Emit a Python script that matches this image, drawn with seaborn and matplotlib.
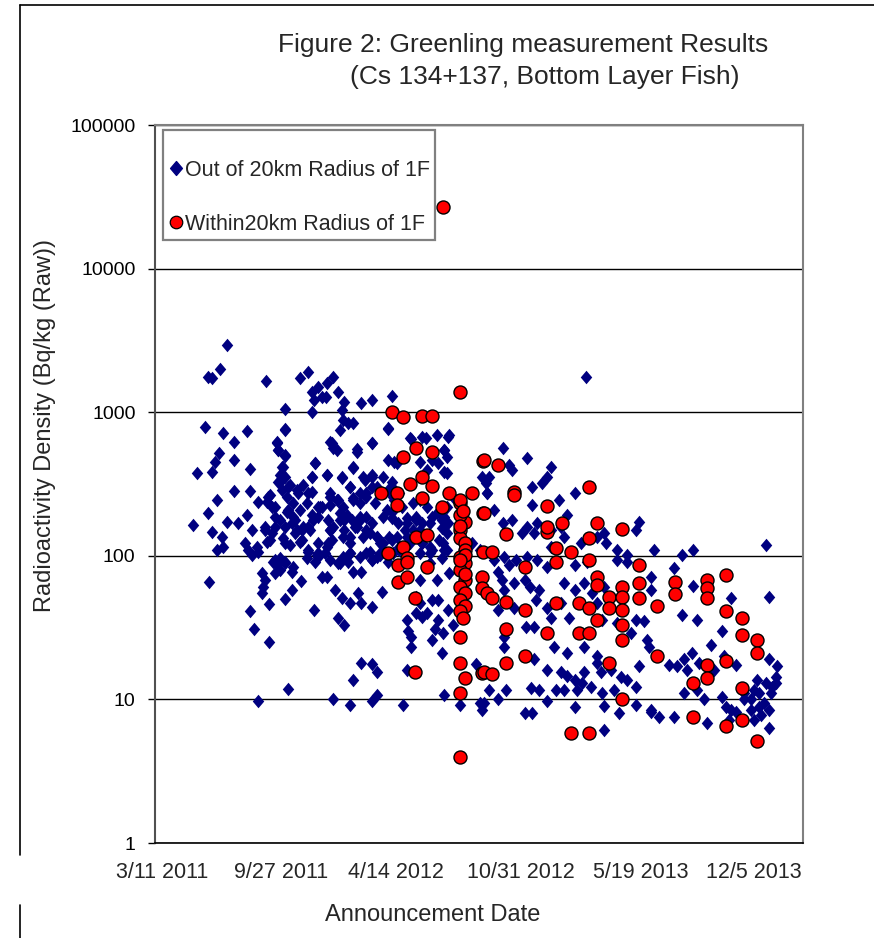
import pandas as pd
import matplotlib
matplotlib.use('Agg')
import matplotlib.pyplot as plt
import matplotlib.dates as mdates
from matplotlib.lines import Line2D
from matplotlib.patches import Rectangle
from matplotlib.path import Path
from matplotlib.ticker import NullLocator
import seaborn as sns

start = pd.Timestamp('2011-03-11')
axis_days = 1180

# (days after 3/11/2011, Bq/kg)
out_20km = [
    (131, 2940), (96, 1760), (104, 1730), (118, 2000), (202, 1650), (264, 1730), (278, 1900),
    (285, 1390), (296, 1500), (304, 1280), (289, 1220), (236, 1050), (285, 1000), (91, 790),
    (124, 716), (144, 620), (167, 740), (236, 764), (222, 610), (224, 545), (236, 495), (116, 520),
    (109, 450), (104, 383), (76, 377), (144, 465), (173, 402), (231, 415), (236, 354), (227, 327),
    (291, 443), (285, 354), (144, 283), (173, 283), (113, 245), (96, 199), (69, 164), (104, 147),
    (131, 172), (151, 169), (167, 192), (176, 151), (187, 237), (205, 256), (213, 219), (231, 287),
    (242, 301), (260, 274), (278, 274), (296, 219), (218, 186), (240, 202), (255, 178), (267, 151),
    (278, 159), (285, 192), (122, 135), (124, 115), (113, 110), (164, 123), (169, 110), (185, 115),
    (200, 151), (209, 129), (218, 159), (236, 123), (255, 144), (267, 129), (278, 110), (296, 105),
    (176, 101), (187, 106), (215, 91), (222, 86), (227, 97), (236, 91), (227, 80), (218, 76),
    (291, 91), (296, 98), (195, 76), (200, 68), (196, 61), (195, 55), (98, 66), (249, 77),
    (265, 67), (249, 58), (236, 50), (207, 46), (173, 41), (180, 31), (207, 25), (289, 42),
    (242, 11.8), (187, 9.8), (305, 71),
    (324, 1760), (313, 1600), (311, 1280), (333, 1390), (345, 1180), (340, 1040), (342, 880),
    (360, 840), (376, 1160), (396, 1220), (431, 1300), (424, 764), (318, 620), (324, 563),
    (367, 554), (396, 610), (467, 650), (493, 661), (533, 672), (527, 545), (531, 488), (527, 383),
    (436, 450), (482, 450), (313, 365), (340, 354), (360, 415), (355, 301), (382, 337), (396, 354),
    (318, 274), (333, 245), (360, 253), (373, 233), (385, 274), (405, 301), (431, 301), (445, 274),
    (436, 245), (596, 354), (604, 274), (305, 219), (318, 226), (336, 199), (345, 178), (358, 178),
    (373, 186), (385, 151), (396, 169), (415, 186), (431, 202), (458, 169), (476, 186), (482, 151),
    (500, 169), (513, 199), (527, 186), (533, 169), (318, 151), (315, 123), (342, 135), (355, 123),
    (367, 159), (404, 135), (409, 123), (427, 135), (440, 135), (455, 151), (464, 123), (485, 144),
    (487, 123), (500, 115), (524, 123), (531, 110), (578, 123), (591, 110), (309, 105), (355, 105),
    (385, 105), (409, 105), (433, 105), (445, 110), (500, 105), (527, 110),
    (313, 71), (327, 58), (336, 89), (351, 91), (360, 77), (376, 77), (340, 51), (355, 47),
    (369, 55), (376, 47), (396, 44), (413, 56), (395, 93), (405, 98), (424, 91), (333, 37),
    (345, 33), (458, 36), (460, 30), (467, 27), (467, 23), (476, 40), (487, 37.5), (495, 40),
    (505, 26), (509, 31), (515, 36), (524, 29), (522, 21), (515, 49), (533, 42), (542, 33),
    (476, 52), (482, 47), (505, 49), (482, 68), (513, 68), (536, 76), (376, 18), (396, 17.5),
    (404, 15.5), (360, 13.6), (458, 16), (585, 17.5), (527, 10.7), (404, 10.7), (324, 10),
    (355, 9.2), (395, 9.7), (451, 9.2), (555, 9.2), (591, 9.4), (595, 8.4),
    (633, 563), (678, 480), (645, 429), (651, 396), (722, 415), (713, 354), (705, 321), (764, 274),
    (736, 245), (687, 301), (605, 274), (618, 208), (687, 225), (651, 178), (633, 169), (678, 159),
    (696, 169), (669, 144), (691, 144), (722, 151), (740, 159), (751, 192), (745, 135), (722, 115),
    (776, 123), (804, 135), (818, 144), (822, 123), (842, 110), (860, 101), (876, 151), (882, 172),
    (609, 354), (602, 321), (785, 1750),
    (618, 93), (636, 98), (645, 86), (624, 77), (631, 68), (658, 93), (678, 98), (696, 93),
    (713, 83), (636, 58), (654, 65), (673, 68), (682, 61), (700, 58), (624, 42), (654, 43),
    (694, 49), (714, 43), (722, 37), (740, 47), (754, 37), (745, 65), (764, 58), (782, 65),
    (796, 55), (787, 91), (764, 86), (842, 93), (860, 91), (904, 71), (904, 58), (876, 36),
    (891, 35), (867, 29), (842, 34), (814, 36), (805, 47), (818, 61), (676, 32), (691, 32),
    (636, 27), (636, 23), (727, 23), (751, 21), (782, 23), (805, 20), (804, 18), (813, 15.5),
    (831, 16), (714, 16), (691, 19), (740, 15.5), (751, 14.5), (764, 13.7), (782, 15.5), (778, 13),
    (769, 11.6), (745, 11.6), (731, 11.6), (714, 9.7), (685, 12), (700, 11.6), (687, 8), (673, 8),
    (640, 11.6), (609, 11.6), (624, 10), (600, 9.5), (818, 9), (836, 11.6), (849, 14.3), (860, 13.7),
    (876, 12.2), (882, 17), (896, 26), (904, 8.2), (876, 9.2), (845, 8), (814, 11), (794, 12.2),
    (818, 6.1), (764, 8.9),
    (909, 110), (960, 101), (980, 110), (1113, 119), (945, 82), (980, 62), (960, 39), (987, 36),
    (1118, 52), (1049, 51), (1033, 30), (1013, 24), (900, 23), (936, 17.3), (951, 17), (964, 19),
    (969, 16), (978, 21), (991, 18), (1009, 17), (1018, 16), (1058, 17.3), (1036, 20), (964, 11),
    (987, 11.6), (1000, 10), (1033, 10.4), (1040, 8.8), (1049, 8.4), (1073, 10), (1085, 8.4),
    (1100, 11), (1096, 13.7), (1113, 13), (1122, 11), (1131, 14.4), (1133, 17), (1118, 19),
    (904, 8.4), (918, 7.5), (945, 7.5), (1005, 6.9), (1045, 7.2), (1058, 8.2), (1091, 7.2),
    (1104, 7.8), (1118, 6.3), (1118, 8.4), (1073, 11), (1085, 10), (1091, 11.6), (1100, 8.8),
    (1109, 9.5), (1124, 12.2), (1131, 13),
    # dense middle block, autumn 2011 to autumn 2012
    (236, 752), (222, 620), (224, 545), (236, 504), (233, 415), (227, 365), (224, 327), (245, 311),
    (258, 287), (269, 311), (209, 265), (204, 237), (218, 219), (240, 257), (251, 233), (242, 208),
    (251, 186), (264, 208), (276, 233), (285, 278), (200, 159), (213, 144), (204, 125), (227, 178),
    (236, 159), (249, 169), (258, 151), (269, 159), (282, 151), (287, 178), (233, 133), (245, 119),
    (264, 125), (278, 106), (295, 101), (296, 123), (318, 151), (322, 129), (313, 115), (218, 93),
    (236, 89), (251, 84), (276, 97), (291, 443), (285, 354), (313, 365), (331, 545), (322, 610),
    (336, 752), (351, 841), (367, 528), (340, 348), (355, 301), (360, 409), (378, 354), (395, 365),
    (396, 610), (318, 257), (331, 245), (342, 219), (349, 192), (360, 245), (373, 274), (385, 257),
    (395, 301), (400, 233), (300, 219), (296, 186), (315, 178), (324, 159), (336, 178), (345, 151),
    (355, 135), (364, 159), (373, 178), (385, 186), (391, 144), (378, 135), (318, 93), (333, 89),
    (342, 98), (355, 105), (373, 98), (396, 93), (409, 101), (391, 106), (424, 776), (424, 465),
    (440, 443), (415, 354), (431, 327), (424, 287), (433, 257), (422, 208), (431, 183), (442, 169),
    (458, 183), (449, 219), (469, 233), (482, 245), (495, 219), (505, 186), (476, 178), (487, 169),
    (404, 135), (415, 123), (413, 106), (431, 129), (445, 115), (458, 135), (469, 151), (487, 123),
    (505, 110), (518, 129), (531, 144), (522, 178), (531, 219), (542, 257), (464, 661), (487, 672),
    (513, 694), (536, 694), (527, 545), (515, 443), (531, 377), (495, 396), (505, 465), (531, 169),
    (522, 156), (482, 105), (500, 89), (522, 97),
]

in_20km = [
    (524, 26800), (555, 1390), (431, 1000), (451, 930), (487, 940), (505, 940), (476, 563),
    (505, 528), (451, 488), (598, 457), (487, 354), (465, 316), (505, 306), (411, 274), (440, 274),
    (440, 225), (487, 253), (536, 274), (522, 219), (578, 274), (555, 233), (598, 199), (564, 172),
    (555, 192), (555, 151), (555, 133), (564, 123), (564, 110), (555, 98), (476, 135), (496, 140),
    (424, 105), (451, 115), (458, 96), (598, 107), (442, 86), (458, 91), (442, 66), (458, 71),
    (473, 51), (496, 84), (564, 89), (555, 80), (564, 68), (555, 61), (564, 55), (555, 49),
    (564, 45), (555, 41), (560, 37), (555, 27), (555, 18), (564, 14), (555, 11), (555, 4.0),
    (473, 15.5), (596, 71), (596, 60), (604, 55), (596, 15.3), (555, 245), (560, 205), (555, 160),
    (564, 102), (555, 93), (564, 75),
    (600, 466), (624, 429), (653, 280), (653, 263), (600, 199), (714, 222), (742, 169), (714, 147),
    (714, 159), (805, 169), (791, 133), (851, 154), (640, 142), (614, 107), (731, 113), (758, 107),
    (791, 301), (673, 83), (731, 91), (791, 93), (882, 86), (882, 65), (882, 51), (805, 71),
    (805, 63), (827, 52), (827, 43), (851, 61), (851, 52), (851, 42), (851, 33), (851, 26),
    (614, 51), (640, 48), (673, 42), (731, 47), (773, 47), (791, 43), (805, 36), (640, 31),
    (714, 29), (773, 29), (791, 29), (640, 18), (673, 20), (827, 18), (600, 15.5), (614, 15),
    (851, 10.1), (758, 5.8), (791, 5.8),
    (947, 66), (947, 54), (914, 45), (914, 20), (1005, 68), (1005, 60), (1005, 51), (1005, 17.3),
    (1005, 14), (980, 13), (980, 7.5), (1040, 73), (1040, 41), (1040, 18.5), (1040, 6.5),
    (1069, 37), (1069, 28), (1069, 12), (1069, 7.2), (1096, 26), (1096, 21), (1096, 5.1),
]

tick_dates = ['2011-03-11', '2011-09-27', '2012-04-14', '2012-10-31', '2013-05-19', '2013-12-05']
y_ticks = [1, 10, 100, 1000, 10000, 100000]
labels = ['Out of 20km Radius of 1F', 'Within20km Radius of 1F']

# the date labels sit a little right of their tick marks in the original (pixels)
label_shift = [7, 16, 21, 36, 46, 50]


def to_frame(points):
    df = pd.DataFrame(points, columns=['day', 'value'])
    df['date'] = start + pd.to_timedelta(df['day'], unit='D')
    return df


out_df = to_frame(out_20km)
in_df = to_frame(in_20km)

sns.set_style('white')
plt.rcParams['font.family'] = ['Liberation Sans', 'DejaVu Sans']

W, H = 874, 938
fig = plt.figure(figsize=(W / 100, H / 100), dpi=100)
ax = fig.add_axes([155 / W, 1 - 843 / H, 648 / W, 718 / H])

# Excel-like diamond, a bit narrower than tall
diamond = Path([(0, 1), (0.85, 0), (0, -1), (-0.85, 0), (0, 1)],
               [Path.MOVETO, Path.LINETO, Path.LINETO, Path.LINETO, Path.CLOSEPOLY])

sns.scatterplot(data=out_df, x='date', y='value', marker=diamond, s=95,
                color='#000080', edgecolor='#000080', linewidth=0, ax=ax, zorder=3, legend=False)
sns.scatterplot(data=in_df, x='date', y='value', marker='o', s=88,
                color='#ff0000', edgecolor='black', linewidth=1.0, ax=ax, zorder=4, legend=False)

ax.set_yscale('log')
ax.set_ylim(1, 100000)
ax.set_yticks(y_ticks)
ax.set_yticklabels([str(v) for v in y_ticks], fontsize=14)
ax.yaxis.set_minor_locator(NullLocator())

ax.set_xlim(start, start + pd.Timedelta(days=axis_days))
tick_ts = pd.to_datetime(tick_dates)
ax.set_xticks(tick_ts)
ax.set_xticklabels([])
ax.xaxis.set_minor_locator(NullLocator())
for d, dx in zip(tick_ts, label_shift):
    ax.annotate(f'{d.month}/{d.day} {d.year}', xy=(mdates.date2num(d), 0.0),
                xycoords=ax.get_xaxis_transform(), xytext=(dx, -29),
                textcoords='offset pixels', ha='center', va='center', fontsize=15.5,
                annotation_clip=False)

ax.set_xlabel('')
ax.set_ylabel('')
ax.grid(axis='y', color='black', linewidth=1)
ax.grid(axis='x', visible=False)
ax.set_axisbelow(True)

for side in ['top', 'right']:
    ax.spines[side].set_color('#808080')
    ax.spines[side].set_linewidth(1.5)
ax.spines['left'].set_color('#505050')
ax.spines['left'].set_linewidth(1.5)
ax.spines['bottom'].set_color('black')
ax.spines['bottom'].set_linewidth(1.2)

ax.tick_params(axis='x', direction='in', length=6, width=1, colors='black')
ax.tick_params(axis='y', direction='out', length=5, width=1, pad=9, left=True, colors='black')

# legend box drawn like the Excel one, entries placed inside it
fig.add_artist(Rectangle((163 / W, 1 - 240 / H), 272 / W, 110 / H, transform=fig.transFigure,
                         facecolor='white', edgecolor='#808080', linewidth=1.6, zorder=5))
handles = [
    Line2D([], [], marker=diamond, color='#000080', linestyle='none', markersize=10),
    Line2D([], [], marker='o', markerfacecolor='#ff0000', markeredgecolor='black',
           markeredgewidth=0.9, linestyle='none', markersize=9),
]
leg = fig.legend(handles, labels, loc='upper left', bbox_to_anchor=(170 / W, 1 - 160 / H),
                 bbox_transform=fig.transFigure, fontsize=15.5, frameon=False,
                 borderpad=0, labelspacing=1.53, handlelength=0.6, handletextpad=0.1,
                 borderaxespad=0)
leg.set_zorder(6)

fig.text(523 / W, 1 - 45 / H, 'Figure 2: Greenling measurement Results',
         ha='center', va='center', fontsize=19)
fig.text(545 / W, 1 - 77 / H, '(Cs 134+137, Bottom Layer Fish)',
         ha='center', va='center', fontsize=19)
fig.text(45 / W, 1 - 425 / H, 'Radioactivity Density (Bq/kg (Raw))',
         ha='center', va='center', rotation=90, fontsize=17)
fig.text(433 / W, 1 - 915 / H, 'Announcement Date', ha='center', va='center', fontsize=17)

# frame lines from the surrounding page
fig.add_artist(Line2D([20 / W, 1], [1 - 5 / H, 1 - 5 / H], color='black', linewidth=1.2))
fig.add_artist(Line2D([20 / W, 20 / W], [1 - 5 / H, 1 - 855 / H], color='black', linewidth=1.2))
fig.add_artist(Line2D([20 / W, 20 / W], [1 - 905 / H, 0], color='black', linewidth=1.2))

fig.savefig('out.png', dpi=100)
